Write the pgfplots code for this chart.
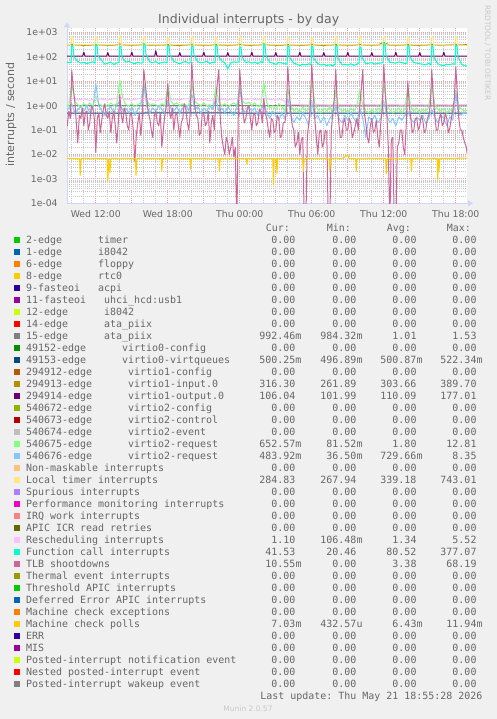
\documentclass[border=0pt]{standalone}
\usepackage{pgfplots}
\pgfplotsset{compat=1.18}
\usetikzlibrary{arrows.meta}
\usepackage{fontspec}
\setmainfont{DejaVu Sans}
\newfontfamily\mono{DejaVu Sans Mono}
\frenchspacing
\definecolor{bgc}{HTML}{F0F0F0}
\definecolor{fontc}{HTML}{666666}
\definecolor{wmc}{HTML}{C8C8C8}
\definecolor{axc}{HTML}{CFD6F8}
\definecolor{gridc}{HTML}{C8C8C8}
\definecolor{mgridc}{HTML}{F0A0A0}
\definecolor{c00CC00}{HTML}{00CC00}
\definecolor{c0066B3}{HTML}{0066B3}
\definecolor{cFF8000}{HTML}{FF8000}
\definecolor{cFFCC00}{HTML}{FFCC00}
\definecolor{c330099}{HTML}{330099}
\definecolor{c990099}{HTML}{990099}
\definecolor{cCCFF00}{HTML}{CCFF00}
\definecolor{cFF0000}{HTML}{FF0000}
\definecolor{c808080}{HTML}{808080}
\definecolor{c008F00}{HTML}{008F00}
\definecolor{c00487D}{HTML}{00487D}
\definecolor{cB35A00}{HTML}{B35A00}
\definecolor{cB38F00}{HTML}{B38F00}
\definecolor{c6B006B}{HTML}{6B006B}
\definecolor{c8FB300}{HTML}{8FB300}
\definecolor{cB30000}{HTML}{B30000}
\definecolor{cBEBEBE}{HTML}{BEBEBE}
\definecolor{c80FF80}{HTML}{80FF80}
\definecolor{c80C9FF}{HTML}{80C9FF}
\definecolor{cFFC080}{HTML}{FFC080}
\definecolor{cFFE680}{HTML}{FFE680}
\definecolor{cAA80FF}{HTML}{AA80FF}
\definecolor{cEE00CC}{HTML}{EE00CC}
\definecolor{cFF8080}{HTML}{FF8080}
\definecolor{c666600}{HTML}{666600}
\definecolor{cFFBFFF}{HTML}{FFBFFF}
\definecolor{c00FFCC}{HTML}{00FFCC}
\definecolor{cCC6699}{HTML}{CC6699}
\definecolor{c999900}{HTML}{999900}
\newcommand\p[1]{#1\hphantom{m}}
\newcommand\Z{\p{0.00}}
\newcommand\lrow[9]{%
  \pgfmathsetmacro\yb{475.5-12*#1}%
  \fill[#2] (14,\yb+0.6) rectangle (20,\yb+6.6);
  \node[lg,anchor=base west] at (26,\yb) {#3};
  \node[lg,anchor=base west] at ({26+6*#4},\yb) {#5};
  \node[lg,anchor=base east] at (301.7,\yb) {#6};
  \node[lg,anchor=base east] at (362.7,\yb) {#7};
  \node[lg,anchor=base east] at (422.7,\yb) {#8};
  \node[lg,anchor=base east] at (482.7,\yb) {#9};
}
\begin{document}
\begin{tikzpicture}[x=1pt,y=1pt,
  lg/.style={inner sep=0pt,text=fontc,font=\mono\fontsize{9.97}{12}\selectfont}]
\path[use as bounding box,fill=bgc] (0,0) rectangle (497,719);
\begin{axis}[
  at={(67pt,515.7pt)}, anchor=south west,
  scale only axis, width=400pt, height=175pt,
  ymode=log, log basis y=10,
  xmin=9.6, xmax=42.9333, ymin=1e-4, ymax=1480,
  axis background/.style={fill=white},
  axis lines=left,
  axis line style={draw=axc, line width=1pt},
  x axis line style={-{Triangle[length=5pt,width=6pt]}, shorten >=-6pt},
  y axis line style={-{Triangle[length=5pt,width=6pt]}, shorten >=-6pt},
  xtick={12,15,18,21,24,27,30,33,36,39,42},
  xticklabels={Wed 12:00,,Wed 18:00,,Thu 00:00,,Thu 06:00,,Thu 12:00,,Thu 18:00},
  minor xtick={10,11,13,14,16,17,19,20,22,23,25,26,28,29,31,32,34,35,37,38,40,41},
  ytick={1e-4,1e-3,1e-2,1e-1,1,10,100,1000},
  yticklabels={1e-04,1e-03,1e-02,1e-01,1e+00,1e+01,1e+02,1e+03},
  minor ytick={2e-4,3e-4,4e-4,5e-4,6e-4,7e-4,8e-4,9e-4,
    2e-3,3e-3,4e-3,5e-3,6e-3,7e-3,8e-3,9e-3,
    2e-2,3e-2,4e-2,5e-2,6e-2,7e-2,8e-2,9e-2,
    0.2,0.3,0.4,0.5,0.6,0.7,0.8,0.9,
    2,3,4,5,6,7,8,9,20,30,40,50,60,70,80,90,
    200,300,400,500,600,700,800,900},
  grid=both,
  major grid style={draw=mgridc, line width=0.8pt, dash pattern=on 1pt off 1pt},
  minor grid style={draw=gridc, line width=0.8pt, dash pattern=on 1pt off 1pt},
  tick style={draw=none},
  tick label style={font=\fontsize{9.3}{11}\selectfont, text=fontc},
  xticklabel style={anchor=base, inner sep=0pt, yshift=-12.4pt},
  yticklabel style={anchor=east, inner sep=0pt, xshift=-7pt},
  every axis plot/.append style={line width=1pt, line join=round, mark=none},
]
% 15-edge ata_piix
\addplot[c808080] coordinates {(9.5,1.0) (20,1.01) (30,0.99) (42.95,0.99)};
% 49153-edge virtio0-virtqueues
\addplot[c00487D] coordinates {(9.5,0.5) (20,0.501) (30,0.5) (42.95,0.5)};
% 294913-edge virtio1-input.0
\addplot[cB38F00] coordinates {(9.5,298) (10,330) (10.5,300) (11.5,296) (12,320) (12.5,302) (13.5,298) (14,340) (14.5,300) (15.5,305) (16,330) (16.5,298) (17.5,302) (18,320) (18.5,296) (19.5,300) (20,335) (20.5,302) (21.5,298) (22,325) (22.5,300) (23.5,304) (24,330) (24.5,298) (25.5,300) (26,340) (26.5,302) (27.5,296) (28,320) (28.5,300) (29.5,298) (30,330) (30.5,296) (31.5,300) (32,325) (32.5,302) (33.5,298) (34,330) (34.5,300) (35.5,304) (36,389) (36.5,300) (37.5,302) (38,325) (38.5,298) (39.5,300) (40,330) (40.5,304) (41.5,310) (42,330) (42.5,312) (42.95,316)};
% 294914-edge virtio1-output.0
\addplot[c6B006B] coordinates {(9.5,106) (10.9,106) (11,155) (11.1,106) (12.9,106) (13,150) (13.1,106) (14.9,106) (15,155) (15.1,106) (16.9,106) (17,177) (17.1,106) (18.9,106) (19,150) (19.1,106) (20.9,106) (21,155) (21.1,106) (22.9,106) (23,150) (23.1,106) (24.9,106) (25,155) (25.1,106) (26.9,106) (27,150) (27.1,106) (28.9,106) (29,155) (29.1,106) (30.9,106) (31,150) (31.1,106) (32.9,106) (33,155) (33.1,106) (34.9,106) (35,150) (35.1,106) (36.9,106) (37,155) (37.1,106) (38.9,106) (39,150) (39.1,106) (40.9,106) (41,155) (41.1,106) (42.95,106)};
% 540675-edge virtio2-request
\addplot[c80FF80] coordinates {(9.5,1.1) (9.75,1.0) (10,8) (10.25,1.5) (10.5,1.1) (10.75,0.9) (11,1.2) (11.25,1.0) (11.5,1.3) (11.75,0.9) (12,2.5) (12.25,1.2) (12.5,1.0) (12.75,1.1) (13,0.9) (13.25,1.3) (13.5,1.0) (13.75,1.2) (14,11) (14.25,2) (14.5,1.1) (14.75,1.0) (15,1.2) (15.25,0.9) (15.5,1.1) (15.75,1.3) (16,9) (16.25,1.8) (16.5,1.0) (16.75,1.2) (17,1.1) (17.25,0.9) (17.5,1.2) (17.75,1.0) (18,7) (18.25,1.6) (18.5,1.1) (18.75,1.3) (19,1.0) (19.25,1.2) (19.5,0.9) (19.75,1.1) (20,8) (20.25,1.5) (20.5,1.2) (20.75,1.0) (21,1.3) (21.25,1.0) (21.5,1.1) (21.75,0.8) (22,6) (22.25,1.4) (22.5,1.0) (22.75,1.2) (23,0.9) (23.25,1.1) (23.5,1.3) (23.75,1.0) (24,7) (24.25,1.5) (24.5,1.2) (24.75,1.4) (25,1.0) (25.25,1.3) (25.5,0.9) (25.75,1.1) (26,9) (26.25,1.3) (26.5,0.8) (26.75,1.0) (27,0.7) (27.25,1.2) (27.5,0.9) (27.75,0.6) (28,5) (28.25,1.0) (28.5,0.6) (28.75,0.8) (29,0.5) (29.25,0.9) (29.5,0.6) (29.75,0.7) (30,10) (30.25,1.2) (30.5,0.7) (30.75,0.5) (31,0.8) (31.25,0.6) (31.5,0.9) (31.75,0.5) (32,4) (32.25,0.8) (32.5,0.6) (32.75,0.7) (33,0.5) (33.25,0.8) (33.5,0.6) (33.75,0.9) (34,4.5) (34.25,0.9) (34.5,0.6) (34.75,0.5) (35,0.7) (35.25,0.5) (35.5,0.8) (35.75,0.6) (36,8) (36.25,1.0) (36.5,0.7) (36.75,0.5) (37,0.6) (37.25,0.8) (37.5,0.5) (37.75,0.7) (38,6) (38.25,0.9) (38.5,0.6) (38.75,0.8) (39,0.5) (39.25,0.7) (39.5,0.6) (39.75,0.9) (40,7) (40.25,1.1) (40.5,0.7) (40.75,0.6) (41,0.8) (41.25,0.5) (41.5,0.7) (41.75,0.6) (42,4) (42.25,0.9) (42.5,0.7) (42.75,0.6) (42.95,0.65)};
% 540676-edge virtio2-request
\addplot[c80C9FF] coordinates {(9.5,0.6) (9.75,0.8) (10,1.2) (10.25,0.5) (10.5,0.7) (10.75,0.9) (11,0.6) (11.25,1.0) (11.5,0.5) (11.75,0.8) (12,8) (12.25,1.0) (12.5,0.6) (12.75,0.4) (13,0.7) (13.25,0.9) (13.5,0.5) (13.75,1.1) (14,1.5) (14.25,0.6) (14.5,0.8) (14.75,0.5) (15,0.9) (15.25,0.4) (15.5,0.7) (15.75,1.0) (16,7) (16.25,0.9) (16.5,0.5) (16.75,0.8) (17,0.6) (17.25,1.0) (17.5,0.7) (17.75,0.5) (18,1.5) (18.25,0.8) (18.5,0.6) (18.75,0.9) (19,0.5) (19.25,0.8) (19.5,1.1) (19.75,0.6) (20,3) (20.25,0.7) (20.5,0.9) (20.75,0.5) (21,0.8) (21.25,0.6) (21.5,1.0) (21.75,0.7) (22,2) (22.25,0.6) (22.5,0.8) (22.75,0.5) (23,0.9) (23.25,0.6) (23.5,0.4) (23.75,0.8) (24,5) (24.25,0.7) (24.5,0.5) (24.75,0.9) (25,0.6) (25.25,0.8) (25.5,0.4) (25.75,0.7) (26,1.2) (26.25,0.5) (26.5,0.3) (26.75,0.6) (27,0.4) (27.25,0.25) (27.5,0.5) (27.75,0.3) (28,2) (28.25,0.4) (28.5,0.2) (28.75,0.35) (29,0.25) (29.25,0.5) (29.5,0.3) (29.75,0.15) (30,1.5) (30.25,0.3) (30.5,0.4) (30.75,0.2) (31,0.35) (31.25,0.15) (31.5,0.3) (31.75,0.45) (32,1.0) (32.25,0.3) (32.5,0.2) (32.75,0.4) (33,0.25) (33.25,0.5) (33.5,0.3) (33.75,0.2) (34,0.8) (34.25,0.3) (34.5,0.05) (34.75,0.35) (35,0.25) (35.25,0.4) (35.5,0.2) (35.75,0.3) (36,1.5) (36.25,0.4) (36.5,0.2) (36.75,0.3) (37,0.15) (37.25,0.35) (37.5,0.25) (37.75,0.4) (38,0.6) (38.25,0.3) (38.5,0.2) (38.75,0.35) (39,0.25) (39.25,0.4) (39.5,0.18) (39.75,0.3) (40,0.7) (40.25,0.35) (40.5,0.2) (40.75,0.4) (41,0.3) (41.25,0.15) (41.5,0.35) (41.75,0.25) (42,3) (42.25,0.4) (42.5,0.45) (42.75,0.5) (42.95,0.48)};
% Local timer interrupts
\addplot[cFFE680] coordinates {(9.5,312) (9.9,315) (9.97,690) (10.08,700) (10.15,318) (10.5,308) (11,318) (11.5,306) (11.9,312) (11.97,640) (12.08,650) (12.15,315) (12.5,305) (13,320) (13.5,308) (13.9,314) (13.97,710) (14.08,720) (14.15,316) (14.5,309) (15,318) (15.5,306) (15.9,312) (15.97,670) (16.08,680) (16.15,318) (16.5,307) (17,316) (17.5,305) (17.9,313) (17.97,590) (18.08,600) (18.15,315) (18.5,308) (19,320) (19.5,306) (19.9,312) (19.97,690) (20.08,700) (20.15,316) (20.5,309) (21,317) (21.5,305) (21.9,313) (21.97,610) (22.08,620) (22.15,318) (22.5,307) (23,319) (23.5,306) (23.9,312) (23.97,730) (24.08,743) (24.15,315) (24.5,308) (25,318) (25.5,305) (25.9,313) (25.97,680) (26.08,690) (26.15,316) (26.5,307) (27,316) (27.5,306) (27.9,312) (27.97,640) (28.08,650) (28.15,317) (28.5,308) (29,318) (29.5,305) (29.9,313) (29.97,590) (30.08,600) (30.15,315) (30.5,307) (31,319) (31.5,306) (31.9,312) (31.97,670) (32.08,680) (32.15,316) (32.5,308) (33,317) (33.5,305) (33.9,313) (33.97,710) (34.08,720) (34.15,318) (34.5,307) (35,316) (35.5,306) (35.9,312) (35.97,690) (36.08,700) (36.15,315) (36.5,308) (37,318) (37.5,305) (37.9,313) (37.97,650) (38.08,660) (38.15,316) (38.5,307) (39,317) (39.5,306) (39.9,312) (39.97,680) (40.08,690) (40.15,317) (40.5,308) (41,318) (41.5,305) (41.9,313) (41.97,640) (42.08,650) (42.15,316) (42.5,300) (42.95,285)};
% Rescheduling interrupts
\addplot[cFFBFFF] coordinates {(9.5,1.8) (10,2.0) (10.5,1.7) (11,1.9) (11.5,1.6) (12,2.1) (12.5,1.8) (13,1.7) (13.5,1.9) (14,2.2) (14.5,1.8) (15,1.7) (15.5,1.9) (16,2.0) (16.5,1.8) (17,1.6) (17.5,1.8) (18,2.1) (18.5,1.7) (19,1.8) (19.5,1.9) (20,2.0) (20.5,1.7) (21,1.8) (21.5,1.6) (22,1.9) (22.5,1.8) (23,1.7) (23.5,1.9) (24,2.0) (24.5,1.8) (25,1.9) (25.5,1.7) (26,2.0) (26.5,1.8) (27,1.7) (27.5,1.8) (28,1.2) (28.5,1.1) (29,1.15) (29.5,1.08) (30,1.2) (30.5,1.1) (31,1.12) (31.5,1.06) (32,1.18) (32.5,1.1) (33,1.14) (33.5,1.07) (34,1.2) (34.5,1.1) (35,1.13) (35.5,1.08) (36,1.22) (36.5,1.1) (37,1.12) (37.5,1.06) (38,1.18) (38.5,1.1) (39,1.14) (39.5,1.08) (40,1.2) (40.5,1.1) (41,1.12) (41.5,1.07) (42,1.16) (42.5,1.1) (42.95,1.1)};
% Function call interrupts
\addplot[c00FFCC] coordinates {(9.5,62) (9.75,58) (9.94,60) (10,300) (10.1,270) (10.18,100) (10.5,65) (10.75,55) (11,60) (11.25,52) (11.5,58) (11.75,63) (11.94,55) (12,330) (12.1,300) (12.18,110) (12.5,70) (12.75,50) (13,55) (13.25,62) (13.5,48) (13.75,57) (13.94,60) (14,280) (14.1,260) (14.18,100) (14.5,60) (14.75,66) (15,58) (15.25,52) (15.5,61) (15.75,55) (15.94,58) (16,350) (16.1,320) (16.18,130) (16.5,62) (16.75,58) (17,64) (17.25,53) (17.5,59) (17.75,61) (17.94,57) (18,300) (18.1,280) (18.18,120) (18.5,66) (18.75,57) (19,52) (19.25,60) (19.5,64) (19.75,55) (19.94,58) (20,290) (20.1,270) (20.18,120) (20.5,62) (20.75,58) (21,60) (21.25,66) (21.5,54) (21.75,61) (21.94,57) (22,310) (22.1,290) (22.18,110) (22.5,68) (22.75,57) (23,32) (23.25,58) (23.5,62) (23.75,60) (23.94,63) (24,260) (24.1,250) (24.18,100) (24.5,58) (24.75,63) (25,55) (25.25,61) (25.5,52) (25.75,64) (25.94,56) (26,340) (26.1,310) (26.18,110) (26.5,60) (26.75,56) (27,48) (27.25,60) (27.5,56) (27.75,52) (27.94,50) (28,290) (28.1,270) (28.18,90) (28.5,55) (28.75,50) (29,44) (29.25,50) (29.5,47) (29.75,52) (29.94,46) (30,280) (30.1,260) (30.18,85) (30.5,52) (30.75,46) (31,50) (31.25,44) (31.5,48) (31.75,42) (31.94,50) (32,300) (32.1,280) (32.18,90) (32.5,48) (32.75,50) (33,46) (33.25,52) (33.5,45) (33.75,50) (33.94,55) (34,260) (34.1,240) (34.18,95) (34.5,52) (34.75,55) (35,58) (35.25,50) (35.5,54) (35.75,56) (35.94,58) (36,377) (36.1,340) (36.18,120) (36.5,60) (36.75,58) (37,55) (37.25,62) (37.5,58) (37.75,53) (37.94,55) (38,300) (38.1,280) (38.18,100) (38.5,58) (38.75,55) (39,52) (39.25,50) (39.5,48) (39.75,55) (39.94,46) (40,290) (40.1,270) (40.18,95) (40.5,52) (40.75,46) (41,44) (41.25,50) (41.5,48) (41.75,52) (41.94,50) (42,310) (42.1,290) (42.18,100) (42.5,48) (42.75,44) (42.95,41.5)};
% TLB shootdowns
\addplot[cCC6699] coordinates {(9.5,0.4) (9.625,0.15) (9.75,0.6) (9.875,0.3)
(10,28) (10.125,5) (10.25,1.5) (10.375,0.2) (10.5,0.03) (10.625,0.4) (10.75,0.3) (10.875,0.8)
(11,0.15) (11.125,0.5) (11.25,0.6) (11.375,0.1) (11.5,0.2) (11.625,1.0) (11.75,0.8) (11.875,0.3)
(12,0.012) (12.125,0.3) (12.25,0.5) (12.375,0.08) (12.5,0.25) (12.625,0.7) (12.75,1.2) (12.875,0.4)
(13,0.3) (13.125,0.6) (13.25,0.08) (13.375,0.3) (13.5,0.6) (13.625,0.15) (13.75,0.03) (13.875,0.2)
(14,3) (14.125,0.4) (14.25,0.2) (14.375,0.8) (14.5,0.5) (14.625,0.15) (14.75,0.1) (14.875,0.5)
(15,0.4) (15.125,0.1) (15.25,0.005) (15.375,0.06) (15.5,0.2) (15.625,0.5) (15.75,0.06) (15.875,0.3)
(16,30) (16.125,8) (16.25,2) (16.375,0.5) (16.5,0.3) (16.625,0.1) (16.75,0.05) (16.875,0.4)
(17,0.6) (17.125,0.2) (17.25,0.15) (17.375,0.5) (17.5,0.02) (17.625,0.1) (17.75,0.4) (17.875,1.0)
(18,8) (18.125,0.6) (18.25,0.3) (18.375,0.8) (18.5,0.1) (18.625,0.4) (18.75,0.5) (18.875,0.15)
(19,0.05) (19.125,0.2) (19.25,0.3) (19.375,1.2) (19.5,0.8) (19.625,0.2) (19.75,0.1) (19.875,0.5)
(20,60) (20.125,5) (20.25,1) (20.375,0.4) (20.5,0.3) (20.625,0.06) (20.75,0.08) (20.875,0.5)
(21,0.5) (21.125,0.15) (21.25,0.2) (21.375,0.6) (21.5,0.03) (21.625,0.2) (21.75,0.4) (21.875,0.1)
(22,2) (22.125,8) (22.25,30) (22.375,0.3) (22.5,0.05) (22.625,0.02) (22.75,0.01) (22.875,0.05)
(23,0.03) (23.125,0.01) (23.25,0.02) (23.375,0.05) (23.5,0.008) (23.625,0.02) (23.75,0.00001) (23.875,0.5)
(24,30) (24.125,3) (24.25,0.6) (24.375,0.2) (24.5,0.3) (24.625,0.8) (24.75,1) (24.875,0.3)
(25,0.1) (25.125,0.4) (25.25,0.5) (25.375,0.15) (25.5,0.2) (25.625,0.7) (25.75,0.6) (25.875,0.2)
(26,2) (26.125,0.5) (26.25,0.3) (26.375,0.1) (26.5,0.05) (26.625,0.3) (26.75,0.25) (26.875,0.08)
(27,0.1) (27.125,0.4) (27.25,0.3) (27.375,0.05) (27.5,0.06) (27.625,0.2) (27.75,0.2) (27.875,0.5)
(28,40) (28.125,4) (28.25,0.5) (28.375,0.15) (28.5,0.1) (28.625,0.02) (28.75,0.03) (28.875,0.08)
(29,0.01) (29.125,0.04) (29.25,0.05) (29.375,0.00001) (29.5,0.00001) (29.625,0.05) (29.75,0.2) (29.875,1)
(30,50) (30.125,3) (30.25,0.3) (30.375,0.05) (30.5,0.01) (30.625,0.08) (30.75,0.1) (30.875,0.02)
(31,0.03) (31.125,0.1) (31.25,0.08) (31.375,0.00001) (31.5,0.00001) (31.625,0.1) (31.75,0.5) (31.875,2)
(32,30) (32.125,1) (32.25,0.2) (32.375,0.05) (32.5,0.05) (32.625,0.2) (32.75,0.3) (32.875,0.1)
(33,0.1) (33.125,0.3) (33.25,0.2) (33.375,0.05) (33.5,0.08) (33.625,0.15) (33.75,0.3) (33.875,0.1)
(34,1) (34.125,5) (34.25,30) (34.375,0.5) (34.5,0.2) (34.625,0.05) (34.75,0.03) (34.875,0.15)
(35,0.3) (35.125,0.08) (35.25,0.1) (35.375,0.25) (35.5,0.05) (35.625,0.02) (35.75,0.2) (35.875,0.8)
(36,50) (36.125,3) (36.25,0.5) (36.375,0.02) (36.5,0.00001) (36.625,0.04) (36.75,0.05) (36.875,0.00001)
(37,0.00001) (37.125,0.02) (37.25,0.03) (37.375,0.1) (37.5,0.1) (37.625,0.02) (37.75,0.01) (37.875,0.2)
(38,10) (38.125,1) (38.25,0.3) (38.375,0.08) (38.5,0.1) (38.625,0.3) (38.75,0.3) (38.875,0.1)
(39,0.15) (39.125,0.4) (39.25,0.25) (39.375,0.08) (39.5,0.1) (39.625,0.3) (39.75,0.4) (39.875,1)
(40,30) (40.125,2) (40.25,0.4) (40.375,0.1) (40.5,0.1) (40.625,0.3) (40.75,0.5) (40.875,0.15)
(41,0.2) (41.125,0.5) (41.25,0.3) (41.375,0.08) (41.5,0.12) (41.625,0.3) (41.75,0.6) (41.875,2)
(42,40) (42.125,3) (42.25,0.3) (42.375,0.1) (42.5,0.1) (42.625,0.05) (42.75,0.03) (42.875,0.02) (42.95,0.0105)};
% Machine check polls
\addplot[cFFCC00] coordinates {(9.5,0.0068) (10,0.0070) (10.5,0.0066) (10.65,0.0068) (10.7,0.0014) (10.77,0.0067) (11,0.0071) (11.5,0.0066) (12,0.0069) (12.5,0.0067) (12.93,0.0068) (13,0.0008) (13.08,0.0066) (13.18,0.0018) (13.25,0.0068) (13.5,0.0070) (14,0.0066) (14.5,0.0069) (15,0.0067) (15.3,0.0069) (15.35,0.0014) (15.42,0.0068) (15.8,0.0072) (16.3,0.0066) (16.8,0.0069) (17.45,0.0067) (17.5,0.002) (17.56,0.0068) (18,0.0070) (18.5,0.0067) (19,0.0069) (19.5,0.0066) (19.85,0.0068) (19.9,0.0025) (19.97,0.0069) (20.5,0.0067) (21,0.0070) (21.5,0.0066) (22.25,0.0068) (22.3,0.002) (22.37,0.0069) (22.9,0.0066) (23.5,0.0070) (24,0.0067) (24.55,0.0068) (24.6,0.004) (24.67,0.0069) (25.2,0.0066) (25.8,0.0070) (26.3,0.0067) (26.75,0.0068) (26.8,0.00056) (26.87,0.0067) (27.05,0.0068) (27.1,0.0017) (27.17,0.0069) (27.7,0.0066) (28.3,0.0070) (28.8,0.0067) (29.25,0.0068) (29.3,0.002) (29.37,0.0066) (29.9,0.0070) (30.5,0.0067) (31,0.0069) (31.45,0.0066) (31.5,0.002) (31.57,0.0068) (32,0.0071) (32.5,0.0066) (33,0.0095) (33.1,0.0069) (33.65,0.0067) (33.7,0.002) (33.77,0.0068) (34.3,0.0066) (34.8,0.0070) (35.4,0.0067) (36.15,0.0069) (36.2,0.0016) (36.27,0.0067) (36.8,0.0070) (37.3,0.0066) (37.8,0.0069) (38.25,0.0067) (38.3,0.002) (38.37,0.0068) (38.9,0.0071) (39.5,0.0066) (40,0.0069) (40.45,0.0068) (40.5,0.0009) (40.55,0.0066) (40.6,0.0022) (40.67,0.0068) (41.2,0.0070) (41.8,0.0067) (42.3,0.0072) (42.95,0.0070)};
\end{axis}
% titles and texts
\node[inner sep=0pt,anchor=base,text=fontc,font=\fontsize{12.5}{15}\selectfont] at (248.7,695) {Individual interrupts - by day};
\node[inner sep=0pt,rotate=90,text=fontc,font=\fontsize{11}{13}\selectfont] at (11,604.5) {interrupts / second};
\node[inner sep=0pt,rotate=-90,text=wmc,font=\fontsize{7.4}{9}\selectfont] at (487.5,666) {RRDTOOL / TOBI OETIKER};
\node[inner sep=0pt,anchor=base,text=wmc,font=\fontsize{7.5}{9}\selectfont] at (248,8) {Munin 2.0.57};
% legend header
\node[lg,anchor=base west] at (265.7,487.5) {Cur:};
\node[lg,anchor=base west] at (326.7,487.5) {Min:};
\node[lg,anchor=base west] at (386.7,487.5) {Avg:};
\node[lg,anchor=base west] at (446.7,487.5) {Max:};
\lrow{0}{c00CC00}{2-edge}{12}{timer}{\Z}{\Z}{\Z}{\Z}
\lrow{1}{c0066B3}{1-edge}{12}{i8042}{\Z}{\Z}{\Z}{\Z}
\lrow{2}{cFF8000}{6-edge}{12}{floppy}{\Z}{\Z}{\Z}{\Z}
\lrow{3}{cFFCC00}{8-edge}{12}{rtc0}{\Z}{\Z}{\Z}{\Z}
\lrow{4}{c330099}{9-fasteoi}{12}{acpi}{\Z}{\Z}{\Z}{\Z}
\lrow{5}{c990099}{11-fasteoi}{13}{uhci\_hcd:usb1}{\Z}{\Z}{\Z}{\Z}
\lrow{6}{cCCFF00}{12-edge}{13}{i8042}{\Z}{\Z}{\Z}{\Z}
\lrow{7}{cFF0000}{14-edge}{13}{ata\_piix}{\Z}{\Z}{\Z}{\Z}
\lrow{8}{c808080}{15-edge}{13}{ata\_piix}{992.46m}{984.32m}{\p{1.01}}{\p{1.53}}
\lrow{9}{c008F00}{49152-edge}{16}{virtio0-config}{\Z}{\Z}{\Z}{\Z}
\lrow{10}{c00487D}{49153-edge}{16}{virtio0-virtqueues}{500.25m}{496.89m}{500.87m}{522.34m}
\lrow{11}{cB35A00}{294912-edge}{17}{virtio1-config}{\Z}{\Z}{\Z}{\Z}
\lrow{12}{cB38F00}{294913-edge}{17}{virtio1-input.0}{\p{316.30}}{\p{261.89}}{\p{303.66}}{\p{389.70}}
\lrow{13}{c6B006B}{294914-edge}{17}{virtio1-output.0}{\p{106.04}}{\p{101.99}}{\p{110.09}}{\p{177.01}}
\lrow{14}{c8FB300}{540672-edge}{17}{virtio2-config}{\Z}{\Z}{\Z}{\Z}
\lrow{15}{cB30000}{540673-edge}{17}{virtio2-control}{\Z}{\Z}{\Z}{\Z}
\lrow{16}{cBEBEBE}{540674-edge}{17}{virtio2-event}{\Z}{\Z}{\Z}{\Z}
\lrow{17}{c80FF80}{540675-edge}{17}{virtio2-request}{652.57m}{81.52m}{\p{1.80}}{\p{12.81}}
\lrow{18}{c80C9FF}{540676-edge}{17}{virtio2-request}{483.92m}{36.50m}{729.66m}{\p{8.35}}
\lrow{19}{cFFC080}{Non-maskable interrupts}{0}{}{\Z}{\Z}{\Z}{\Z}
\lrow{20}{cFFE680}{Local timer interrupts}{0}{}{\p{284.83}}{\p{267.94}}{\p{339.18}}{\p{743.01}}
\lrow{21}{cAA80FF}{Spurious interrupts}{0}{}{\Z}{\Z}{\Z}{\Z}
\lrow{22}{cEE00CC}{Performance monitoring interrupts}{0}{}{\Z}{\Z}{\Z}{\Z}
\lrow{23}{cFF8080}{IRQ work interrupts}{0}{}{\Z}{\Z}{\Z}{\Z}
\lrow{24}{c666600}{APIC ICR read retries}{0}{}{\Z}{\Z}{\Z}{\Z}
\lrow{25}{cFFBFFF}{Rescheduling interrupts}{0}{}{\p{1.10}}{106.48m}{\p{1.34}}{\p{5.52}}
\lrow{26}{c00FFCC}{Function call interrupts}{0}{}{\p{41.53}}{\p{20.46}}{\p{80.52}}{\p{377.07}}
\lrow{27}{cCC6699}{TLB shootdowns}{0}{}{10.55m}{\Z}{\p{3.38}}{\p{68.19}}
\lrow{28}{c999900}{Thermal event interrupts}{0}{}{\Z}{\Z}{\Z}{\Z}
\lrow{29}{c00CC00}{Threshold APIC interrupts}{0}{}{\Z}{\Z}{\Z}{\Z}
\lrow{30}{c0066B3}{Deferred Error APIC interrupts}{0}{}{\Z}{\Z}{\Z}{\Z}
\lrow{31}{cFF8000}{Machine check exceptions}{0}{}{\Z}{\Z}{\Z}{\Z}
\lrow{32}{cFFCC00}{Machine check polls}{0}{}{7.03m}{432.57u}{6.43m}{11.94m}
\lrow{33}{c330099}{ERR}{0}{}{\Z}{\Z}{\Z}{\Z}
\lrow{34}{c990099}{MIS}{0}{}{\Z}{\Z}{\Z}{\Z}
\lrow{35}{cCCFF00}{Posted-interrupt notification event}{0}{}{\Z}{\Z}{\Z}{\Z}
\lrow{36}{cFF0000}{Nested posted-interrupt event}{0}{}{\Z}{\Z}{\Z}{\Z}
\lrow{37}{c808080}{Posted-interrupt wakeup event}{0}{}{\Z}{\Z}{\Z}{\Z}
\node[lg,anchor=base east] at (482.7,19.5) {Last update: Thu May 21 18:55:28 2026};
\end{tikzpicture}
\end{document}
